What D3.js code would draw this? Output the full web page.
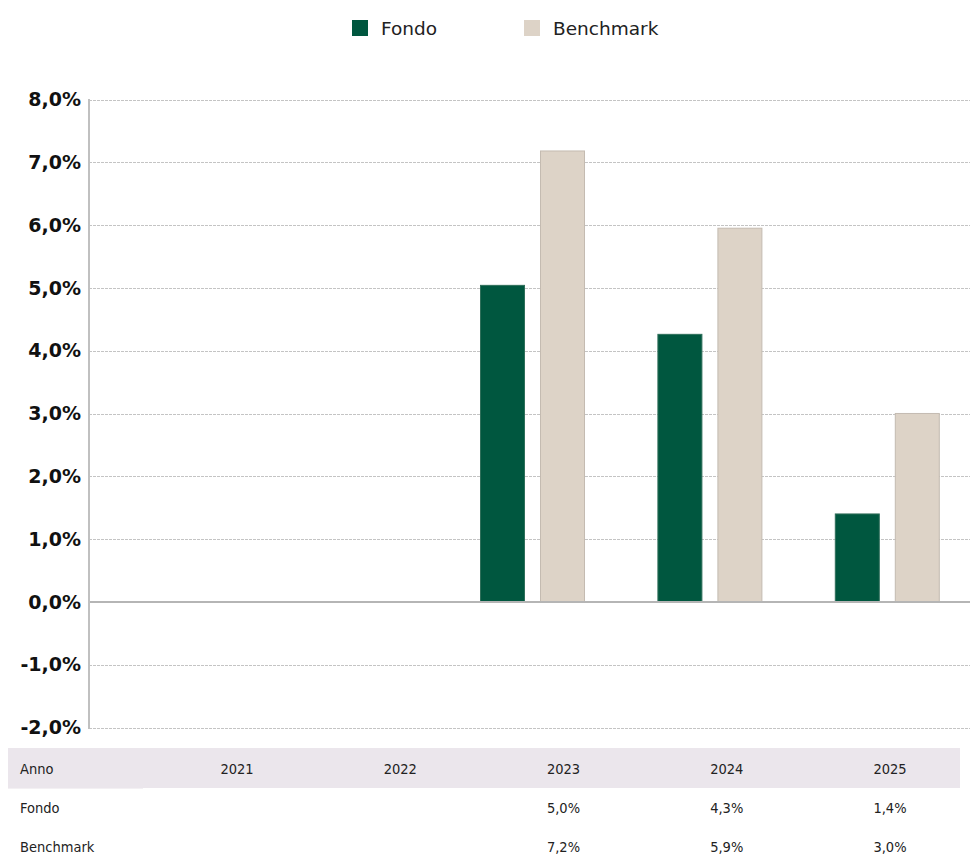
<!DOCTYPE html>
<html><head><meta charset="utf-8">
<script src="https://cdn.jsdelivr.net/npm/d3@7"></script>
<style>body{margin:0;background:#fff;} svg{display:block;}</style>
</head><body>
<script>
const years = ["2021","2022","2023","2024","2025"];
const seriesNames = ["Fondo","Benchmark"];
const fondo = [null, null, 5.05, 4.27, 1.41];
const benchmark = [null, null, 7.19, 5.96, 3.01];
const fondoLabels = ["", "", "5,0%", "4,3%", "1,4%"];
const benchmarkLabels = ["", "", "7,2%", "5,9%", "3,0%"];
const yTicks = [-2,-1,0,1,2,3,4,5,6,7,8];
const colors = ["#00573f", "#ddd3c7"];

const W = 970, H = 855;
const svg = d3.select("body").append("svg").attr("width", W).attr("height", H);

const x = d3.scaleBand().domain(years).range([89, 976]);
const xs = d3.scaleBand().domain(seriesNames).range([36.2, 141.2]).paddingInner(0.25);
const y = d3.scaleLinear().domain([-2, 8]).range([727.6, 99.6]);
const fmt = v => v.toFixed(1).replace(".", ",") + "%";

// grid
svg.append("g").selectAll("line").data(yTicks.filter(d => d !== 0)).join("line")
  .attr("x1", 89).attr("x2", W).attr("y1", d => Math.round(y(d)) + 0.5).attr("y2", d => Math.round(y(d)) + 0.5)
  .attr("stroke", "#c4c4c4").attr("stroke-width", 1).attr("stroke-dasharray", "3,1");

// y labels
const yAxis = d3.axisLeft(y).tickValues(yTicks).tickFormat(fmt).tickSize(0).tickPadding(8);
const ga = svg.append("g").attr("transform", "translate(89,0)").call(yAxis);
ga.select(".domain").remove();
ga.selectAll("text").attr("font-family", "DejaVu Sans, Verdana, sans-serif").attr("font-weight", "bold")
  .attr("font-size", 19).attr("fill", "#111");

// bars
const data = [];
years.forEach((yr, i) => {
  [fondo[i], benchmark[i]].forEach((v, j) => { if (v != null) data.push({yr, s: seriesNames[j], v, j}); });
});
svg.append("g").selectAll("rect").data(data).join("rect")
  .attr("x", d => x(d.yr) + xs(d.s) + 0.5)
  .attr("width", xs.bandwidth() - 1)
  .attr("y", d => y(Math.max(0, d.v)) + 0.5)
  .attr("height", d => Math.abs(y(d.v) - y(0)) - 0.5)
  .attr("fill", d => colors[d.j])
  .attr("stroke", d => d.j === 0 ? "#2f6f5a" : "#c4bbb1").attr("stroke-width", 1);

// zero line and axis line
svg.append("line").attr("x1", 89).attr("x2", W).attr("y1", y(0)).attr("y2", y(0))
  .attr("stroke", "#b5b5b5").attr("stroke-width", 2);
svg.append("line").attr("x1", 89).attr("x2", 89).attr("y1", 99).attr("y2", 729)
  .attr("stroke", "#c0c0c0").attr("stroke-width", 2);

// legend
const leg = svg.append("g").selectAll("g").data(seriesNames).join("g")
  .attr("transform", (d, i) => `translate(${[352, 524][i]},20)`);
leg.append("rect").attr("width", 16).attr("height", 16).attr("fill", (d, i) => colors[i]);
leg.append("text").attr("x", 29).attr("y", 15).text(d => d)
  .attr("font-family", "DejaVu Sans, Verdana, sans-serif").attr("font-size", 18.5).attr("fill", "#222");

// table
const tf = "DejaVu Sans Condensed, DejaVu Sans, sans-serif";
svg.append("rect").attr("x", 8).attr("y", 748).attr("width", 952).attr("height", 40).attr("fill", "#ebe6ec");
svg.append("line").attr("x1", 8).attr("x2", 143).attr("y1", 788.5).attr("y2", 788.5).attr("stroke", "#f3f0f3");
const colX = d3.scalePoint().domain(years).range([237, 890]);
const rows = [["Anno", years, 774], ["Fondo", fondoLabels, 813], ["Benchmark", benchmarkLabels, 852]];
rows.forEach(([lab, vals, yy]) => {
  svg.append("text").attr("x", 20).attr("y", yy).text(lab)
    .attr("font-family", tf).attr("font-stretch", "condensed").attr("font-size", 14.5).attr("fill", "#222");
  svg.append("g").selectAll("text").data(vals).join("text")
    .attr("x", (d, i) => colX(years[i])).attr("y", yy).attr("text-anchor", "middle").text(d => d)
    .attr("font-family", tf).attr("font-stretch", "condensed").attr("font-size", 14.5).attr("fill", "#222");
});
</script>
</body></html>
